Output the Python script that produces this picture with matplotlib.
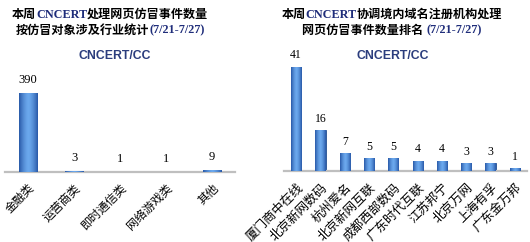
import numpy as np
import matplotlib
matplotlib.use('Agg')
import matplotlib.pyplot as plt
from matplotlib.offsetbox import TextArea, HPacker, VPacker, AnnotationBbox

plt.rcParams['font.family'] = ['Noto Sans CJK SC', 'DejaVu Sans']

# left chart: by industry
ind_cats = ['金融类', '运营商类', '即时通信类', '网络游戏类', '其他']
ind_vals = [390, 3, 1, 1, 9]

# right chart: by registrar
reg_cats = ['厦门商中在线', '北京新网数码', '杭州爱名', '北京新网互联', '成都西部数码',
            '广东时代互联', '江苏邦宁', '北京万网', '上海有孚', '广东金万邦']
reg_vals = [41, 16, 7, 5, 5, 4, 4, 3, 3, 1]

W, H = 530, 242
navy = '#1f2d7a'
fig = plt.figure(figsize=(W / 100, H / 100), dpi=100)


def px_axes(x0, y_base, w, h):
    return fig.add_axes([x0 / W, (H - y_base) / H, w / W, h / H])


def grad_bars(ax, cats, vals, width, ymax, fs):
    x = np.arange(len(cats))
    bars = ax.bar(x, vals, width=width, color='#3b70c2', edgecolor='#24508f', linewidth=0.6, zorder=2)
    g = np.linspace(-1, 1, 64)
    shade = 1 - np.abs(g) ** 1.5
    img = np.zeros((1, 64, 3))
    dark = np.array([0.16, 0.35, 0.66])
    light = np.array([0.42, 0.66, 0.93])
    img[0] = dark + (light - dark) * shade[:, None]
    for b in bars:
        x0, w, h = b.get_x(), b.get_width(), b.get_height()
        im = ax.imshow(img, extent=[x0, x0 + w, 0, h], aspect='auto', zorder=3)
        im.set_clip_path(b)
    ax.set_xlim(-0.5, len(cats) - 0.5)
    ax.set_ylim(0, ymax)
    for s in ['top', 'right', 'left']:
        ax.spines[s].set_visible(False)
    ax.spines['bottom'].set_color('#bfbfbf')
    ax.spines['bottom'].set_linewidth(1.6)
    ax.set_yticks([])
    ax.set_xticks(x)
    ax.set_xticklabels(cats, rotation=45, ha='right', va='top', rotation_mode='anchor', fontsize=fs)
    ax.tick_params(axis='x', length=0, pad=7)
    return x


def title(lines, cx, cy):
    rows = []
    for segs in lines:
        parts = []
        for txt, col, fam in segs:
            parts.append(TextArea(txt, textprops=dict(color=col, fontsize=8.7, fontweight='bold', family=fam)))
        rows.append(HPacker(children=parts, align='baseline', pad=0, sep=0))
    box = VPacker(children=rows, align='center', pad=0, sep=2)
    fig.add_artist(AnnotationBbox(box, (cx, H - cy), xycoords='figure pixels', frameon=False,
                                  box_alignment=(0.5, 0.5)))


cjk = ['Noto Sans CJK SC', 'DejaVu Sans']
ser = 'Liberation Serif'

# left chart
ax1 = px_axes(5, 172, 230, 112)
x1 = grad_bars(ax1, ind_cats, ind_vals, 0.41, 553, 8.5)
for xi, v in zip(x1, ind_vals):
    ax1.annotate(str(v), (xi, v), xytext=(0, 5), textcoords='offset points', ha='center', va='bottom',
                 fontsize=9, family=ser)

# right chart
ax2 = px_axes(284, 171, 243, 112)
x2 = grad_bars(ax2, reg_cats, reg_vals, 0.42, 44.15, 9)
for xi, v in zip(x2, reg_vals):
    ax2.annotate(str(v), (xi, v), xytext=(0, 4), textcoords='offset points', ha='center', va='bottom',
                 fontsize=8.5, family=ser)

title([[('本周', 'black', cjk), ('CNCERT', navy, ser), ('处理网页仿冒事件数量', 'black', cjk)],
       [('按仿冒对象涉及行业统计', 'black', cjk), ('(7/21-7/27)', navy, ser)]], 110, 22)
title([[('本周', 'black', cjk), ('CNCERT', navy, ser), ('协调境内域名注册机构处理', 'black', cjk)],
       [('网页仿冒事件数量排名 ', 'black', cjk), ('(7/21-7/27)', navy, ser)]], 392, 22)

# logos
for lx in [115, 393]:
    fig.text(lx / W, (H - 56) / H, 'CNCERT/CC', ha='center', va='center', fontsize=8.8,
             fontweight='bold', family='Liberation Sans', color='#2b3d7d')

fig.savefig('out.png', dpi=100)
